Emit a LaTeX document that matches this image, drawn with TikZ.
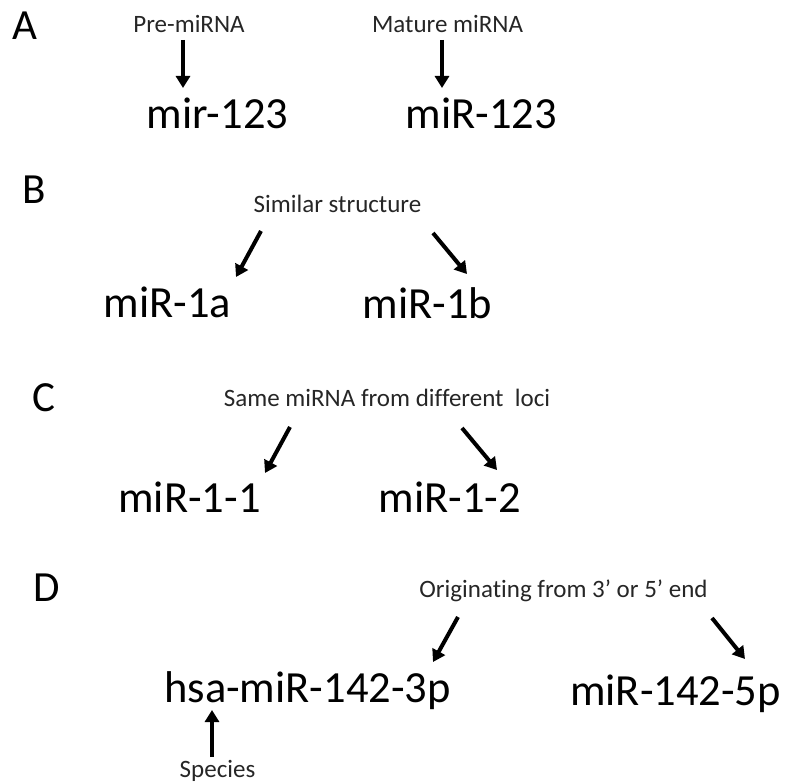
\documentclass[tikz,border=0pt]{standalone}
\usepackage{fontspec}
\setmainfont[Ligatures=NoCommon]{Carlito}
\usetikzlibrary{arrows.meta}
\tikzset{
  big/.style={anchor=base, inner sep=0pt, font=\fontsize{44.5}{50}\selectfont, text=black},
  small/.style={anchor=base, inner sep=0pt, font=\fontsize{25}{30}\selectfont, text=black!85},
  panel/.style={anchor=base, inner sep=0pt, font=\fontsize{43}{50}\selectfont, text=black},
  pointer/.style={line width=4pt, -{Triangle[width=14pt,length=12pt]}}
}
\begin{document}
\begin{tikzpicture}[x=1pt, y=-1pt]
\useasboundingbox (0,0) rectangle (787,784);

% panel letters
\node[panel] (lA) at (25,40) {A};
\node[panel] (lB) at (34.5,203) {B};
\node[panel] (lC) at (43.5,411) {C};
\node[panel] (lD) at (46.5,601) {D};

% A: precursor vs mature naming
\node[small] (pre) at (189,33) {Pre-miRNA};
\node[small] (mat) at (447.5,33) {Mature miRNA};
\node[big] (mir) at (217.5,128) {mir-123};
\node[big] (miR) at (481.5,128) {miR-123};
\coordinate (a1s) at (183,40);  \coordinate (a1e) at (183,88);
\coordinate (a2s) at (442,40);  \coordinate (a2e) at (442,88);
\draw[pointer] (a1s) -- (a1e);
\draw[pointer] (a2s) -- (a2e);

% B: letter suffixes
\node[small] (sim) at (337.5,212) {Similar structure};
\node[big] (m1a) at (167.5,317) {miR-1a};
\node[big] (m1b) at (427.5,318) {miR-1b};
\coordinate (b1s) at (261,231); \coordinate (b1e) at (236,277);
\coordinate (b2s) at (433,233); \coordinate (b2e) at (467,274);
\draw[pointer] (b1s) -- (b1e);
\draw[pointer] (b2s) -- (b2e);

% C: numeric suffixes
\node[small] (same) at (387,406) {Same miRNA from different\ \ loci};
\node[big] (m11) at (189.5,512) {miR-1-1};
\node[big] (m12) at (450,512) {miR-1-2};
\coordinate (c1s) at (290,427); \coordinate (c1e) at (265,473);
\coordinate (c2s) at (462,428); \coordinate (c2e) at (497,470);
\draw[pointer] (c1s) -- (c1e);
\draw[pointer] (c2s) -- (c2e);

% D: arm and species prefix
\node[small] (orig) at (563.5,597) {Originating from 3’ or 5’ end};
\node[big] (hsa) at (307.5,702) {hsa-miR-142-3p};
\node[big] (m5p) at (675.5,705) {miR-142-5p};
\node[small] (spec) at (217.5,777) {Species};
\coordinate (d1s) at (458,617); \coordinate (d1e) at (433,662);
\coordinate (d2s) at (712,618); \coordinate (d2e) at (745,659);
\coordinate (ss) at (212,757);  \coordinate (se) at (212,710);
\draw[pointer] (d1s) -- (d1e);
\draw[pointer] (d2s) -- (d2e);
\draw[pointer] (ss) -- (se);
\end{tikzpicture}
\end{document}
